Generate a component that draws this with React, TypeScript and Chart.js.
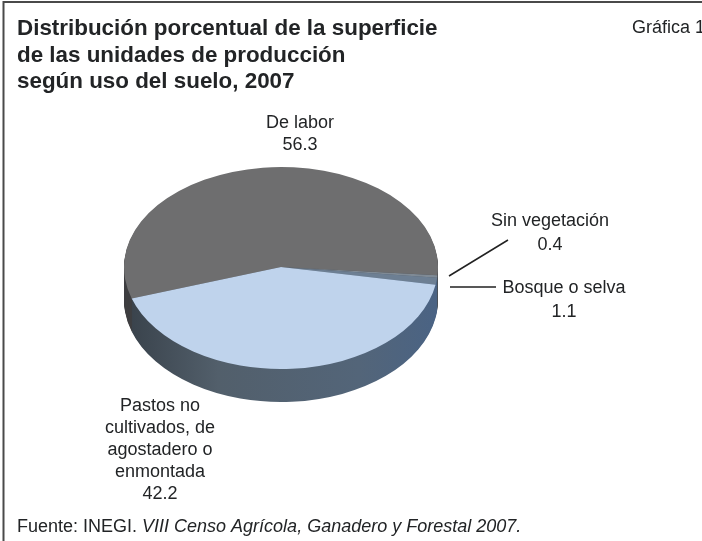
import React, { useEffect, useRef } from "react";
import { Chart, registerables } from "chart.js";

Chart.register(...registerables);

const categories = ["De labor", "Sin vegetación", "Bosque o selva", "Pastos no cultivados, de agostadero o enmontada"];
const shares = [56.3, 0.4, 1.1, 42.2];
const sliceColors = ["#6e6e6f", "#7f8a95", "#6d7f93", "#bfd3ec"];
const rimColors = ["#3f3f41", "#55606c", "#4f6379", "#56677b"];

const titleLines = ["Distribución porcentual de la superficie", "de las unidades de producción", "según uso del suelo, 2007"];
const chartTag = "Gráfica 1";
const sourcePrefix = "Fuente: INEGI. ";
const sourceTitle = "VIII Censo Agrícola, Ganadero y Forestal 2007.";

const FONT = '"Liberation Sans", Arial, sans-serif';
const TEXT = "#222426";

// Disc geometry: the pie is tilted by squashing it vertically, with a stacked rim beneath.
const FAR_SQUASH = 100 / 157;
const NEAR_SQUASH = 102 / 157;
const RIM_DEPTH = 33;

function drawSlices(chart: any, colors: (string | CanvasGradient)[], dy: number) {
  const { ctx, width, height } = chart;
  const arcs = chart.getDatasetMeta(0).data;
  const { x: cx, y: cy } = arcs[0];
  // Each half of the disc gets its own vertical squash, clipped at the hub line.
  [
    { squash: FAR_SQUASH, top: 0, h: cy + dy },
    { squash: NEAR_SQUASH, top: cy + dy, h: height - cy - dy },
  ].forEach(({ squash, top, h }) => {
    ctx.save();
    ctx.beginPath();
    ctx.rect(0, top, width, h);
    ctx.clip();
    ctx.translate(cx, cy + dy);
    ctx.scale(1, squash);
    ctx.translate(-cx, -cy);
    arcs.forEach((arc: any, i: number) => {
      const saved = arc.options;
      arc.options = { ...saved, backgroundColor: colors[i], borderWidth: 0 };
      arc.draw(ctx);
      arc.options = saved;
    });
    ctx.restore();
  });
}

const discPlugin = {
  id: "disc",
  beforeDatasetsDraw(chart: any) {
    const { ctx } = chart;
    const { x: cx, outerRadius: r } = chart.getDatasetMeta(0).data[0];
    for (let d = RIM_DEPTH; d > 0; d--) {
      const rim = ctx.createLinearGradient(cx - r, 0, cx + r, 0);
      rim.addColorStop(0, "#38414a");
      rim.addColorStop(0.3, "#525f6b");
      rim.addColorStop(0.75, "#536579");
      rim.addColorStop(1, "#4a6384");
      drawSlices(chart, [rimColors[0], rimColors[1], rim, rim], d);
    }
    drawSlices(chart, sliceColors, 0);
    return false;
  },
};

const textPlugin = {
  id: "captions",
  afterDraw(chart: any) {
    const { ctx } = chart;
    ctx.save();
    ctx.fillStyle = TEXT;
    ctx.textBaseline = "alphabetic";

    ctx.font = `bold 22.4px ${FONT}`;
    ctx.textAlign = "left";
    titleLines.forEach((line, i) => ctx.fillText(line, 17, 35 + i * 26.5));

    ctx.font = `18px ${FONT}`;
    ctx.fillText(chartTag, 632, 33);

    const centered = (lines: string[], x: number, ys: number[]) => {
      ctx.textAlign = "center";
      lines.forEach((line, i) => ctx.fillText(line, x, ys[i]));
    };
    centered([categories[0], String(shares[0])], 300, [128, 150]);
    centered([categories[1], String(shares[1])], 550, [226, 250]);
    centered([categories[2], String(shares[2])], 564, [293, 317]);
    centered(["Pastos no", "cultivados, de", "agostadero o", "enmontada", String(shares[3])], 160, [411, 433, 455, 477, 499]);

    // Source line, with the census name in italics
    ctx.textAlign = "left";
    ctx.font = `18px ${FONT}`;
    ctx.fillText(sourcePrefix, 17, 532);
    const w = ctx.measureText(sourcePrefix).width;
    ctx.font = `italic 18px ${FONT}`;
    ctx.fillText(sourceTitle, 17 + w, 532);

    // Leader lines for the two thin slices
    ctx.strokeStyle = "#222";
    ctx.lineWidth = 1.5;
    ctx.beginPath();
    ctx.moveTo(449, 276);
    ctx.lineTo(508, 240);
    ctx.moveTo(450, 287);
    ctx.lineTo(496, 287);
    ctx.stroke();

    // Outer frame, open on the right and bottom
    ctx.strokeStyle = "#4a4a4a";
    ctx.lineWidth = 2;
    ctx.beginPath();
    ctx.moveTo(3.5, 541);
    ctx.lineTo(3.5, 2);
    ctx.lineTo(702, 2);
    ctx.stroke();
    ctx.restore();
  },
};

export default function App() {
  const ref = useRef<HTMLCanvasElement>(null);
  useEffect(() => {
    const chart = new Chart(ref.current!, {
      type: "pie",
      data: {
        labels: categories,
        datasets: [{ data: shares, backgroundColor: sliceColors, borderWidth: 0, radius: 157 }],
      },
      options: {
        responsive: false,
        animation: false,
        rotation: 252,
        layout: { padding: { right: 140, bottom: 7 } },
        plugins: { legend: { display: false }, tooltip: { enabled: false } },
      },
      plugins: [discPlugin, textPlugin],
    });
    return () => chart.destroy();
  }, []);
  return (
    <div style={{ position: "absolute", left: 0, top: 0, width: 702, height: 541, background: "#fff" }}>
      <canvas ref={ref} width={702} height={541} style={{ display: "block" }} />
    </div>
  );
}
